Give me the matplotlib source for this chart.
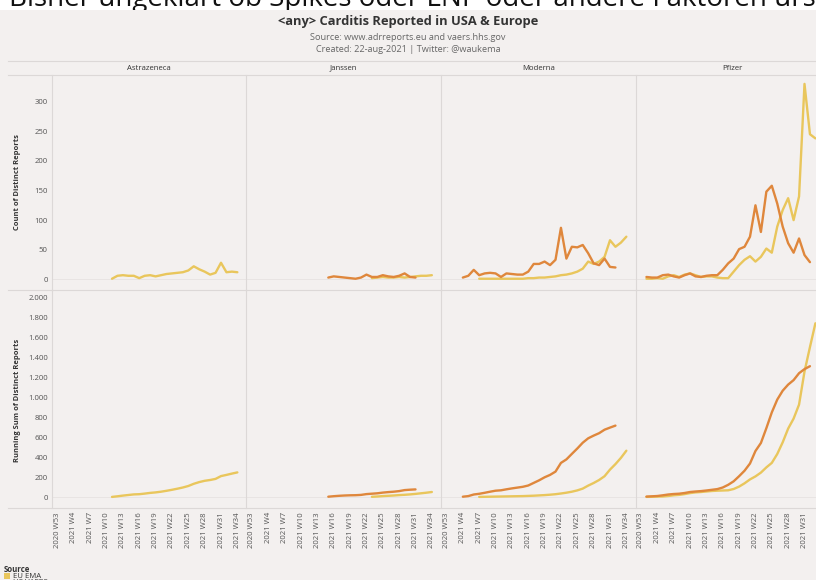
import numpy as np
import matplotlib.pyplot as plt
from matplotlib.ticker import FuncFormatter, FixedLocator
from matplotlib.patches import Rectangle
from matplotlib.lines import Line2D

W, H = 816, 580
BG = "#f3f0ef"
GRID = "#dcd8d7"
EMA_COLOR = "#e9c65c"
VAERS_COLOR = "#df873c"
FONT = ["Open Sans", "DejaVu Sans"]

vaccines = ["Astrazeneca", "Janssen", "Moderna", "Pfizer"]
week_ticks = ["2020 W53", "2021 W4", "2021 W7", "2021 W10", "2021 W13", "2021 W16",
              "2021 W19", "2021 W22", "2021 W25", "2021 W28", "2021 W31", "2021 W34"]

# weekly report counts; *_first = week slot of the first value (slot 0 = 2020 W53)
az_ema_first = 10
az_ema = [1, 6, 7, 6, 6, 2, 6, 7, 5, 7, 9, 10, 11, 12, 15, 22, 17, 13, 8, 11, 28, 12, 13, 12]

jan_ema_first = 22
jan_ema = [2, 3, 4, 3, 3, 4, 3, 4, 5, 6, 6, 7]
jan_vaers_first = 14
jan_vaers = [3, 5, 4, 3, 2, 1, 3, 8, 4, 4, 7, 5, 4, 6, 10, 4, 3]

mod_ema_first = 6
mod_ema = [1, 1, 1, 1, 1, 1, 1, 1, 1, 2, 2, 3, 3, 4, 5, 7, 8, 10, 13, 18, 30, 26, 30, 38,
           66, 55, 62, 72]
mod_vaers_first = 3
mod_vaers = [3, 6, 16, 7, 10, 11, 10, 4, 10, 9, 8, 8, 13, 26, 26, 30, 24, 33, 87, 35, 55,
             54, 58, 44, 27, 24, 35, 21, 20]

pfz_ema_first = 1
pfz_ema = [1, 1, 2, 1, 5, 7, 4, 8, 10, 7, 4, 5, 5, 3, 2, 2, 13, 24, 33, 39, 30, 38, 52, 45,
           89, 117, 137, 100, 140, 330, 245, 238]
pfz_vaers_first = 1
pfz_vaers = [4, 3, 3, 7, 8, 5, 3, 7, 10, 5, 4, 6, 7, 7, 16, 27, 35, 51, 55, 72, 125, 80,
             148, 158, 128, 89, 61, 45, 69, 41, 29]

series = {
    "Astrazeneca": [(az_ema_first, az_ema, EMA_COLOR)],
    "Janssen": [(jan_ema_first, jan_ema, EMA_COLOR), (jan_vaers_first, jan_vaers, VAERS_COLOR)],
    "Moderna": [(mod_ema_first, mod_ema, EMA_COLOR), (mod_vaers_first, mod_vaers, VAERS_COLOR)],
    "Pfizer": [(pfz_ema_first, pfz_ema, EMA_COLOR), (pfz_vaers_first, pfz_vaers, VAERS_COLOR)],
}

fig = plt.figure(figsize=(W / 100, H / 100), dpi=100, facecolor="white")


def fx(x):
    return x / W


def fy(y):
    return 1 - y / H


def px_axes(x0, y0, x1, y1):
    ax = fig.add_axes([fx(x0), fy(y1), fx(x1 - x0), (y1 - y0) / H])
    ax.set_zorder(2)
    return ax


# clipped caption of the screenshot, partly hidden behind the chart
fig.text(fx(9), fy(6), "Bisher ungeklärt ob Spikes oder LNP oder andere Faktoren ursächlich",
         fontsize=20, family=FONT, color="#111111", va="baseline", ha="left", zorder=0.5)
fig.patches.append(Rectangle((0, 0), 1, fy(10), transform=fig.transFigure,
                             facecolor=BG, edgecolor="none", zorder=1))

fig.text(0.5, fy(21), "<any> Carditis Reported in USA & Europe", ha="center", va="center",
         fontsize=9.3, fontweight="bold", family=FONT, color="#333333")
fig.text(0.5, fy(37), "Source: www.adrreports.eu and vaers.hhs.gov", ha="center",
         va="center", fontsize=6.6, family=FONT, color="#666666")
fig.text(0.5, fy(50), "Created: 22-aug-2021 | Twitter: @waukema", ha="center",
         va="center", fontsize=6.6, family=FONT, color="#666666")

panel_w = 194.5
left0 = 52
rows = [(75, 290), (290, 508)]
ylims = [(-18, 345), (-110, 2070)]
yticks = [np.arange(0, 301, 50), np.arange(0, 2001, 200)]
px_per_week = 5.45
xlim = (-5.5 / px_per_week, (panel_w - 5.5) / px_per_week)

thousands = FuncFormatter(lambda v, p: f"{int(v):,}".replace(",", "."))

# header and row separator lines
for y in (61, 75, 290, 508):
    fig.add_artist(Line2D([fx(8), 1], [fy(y), fy(y)], color=GRID, lw=0.8, zorder=2))

for i, name in enumerate(vaccines):
    x0 = left0 + i * panel_w
    fig.text(fx(x0 + panel_w / 2), fy(68), name, ha="center", va="center",
             fontsize=5.6, family=FONT, color="#333333")
    for r, (y0, y1) in enumerate(rows):
        ax = px_axes(x0, y0, x0 + panel_w, y1)
        ax.set_facecolor("none")
        for s in ax.spines.values():
            s.set_visible(False)
        ax.spines["left"].set_visible(True)
        ax.spines["left"].set_color(GRID)
        ax.spines["left"].set_linewidth(0.8)
        ax.axhline(0, color="#e6e2e1", lw=0.6, zorder=0)
        for first, vals, color in series[name]:
            xs = np.arange(first, first + len(vals))
            ys = np.array(vals, dtype=float)
            if r == 1:
                ys = np.cumsum(ys)
            ax.plot(xs, ys, color=color, lw=1.7, solid_capstyle="round",
                    solid_joinstyle="round")
        ax.set_xlim(*xlim)
        ax.set_ylim(*ylims[r])
        ax.yaxis.set_major_locator(FixedLocator(yticks[r]))
        ax.yaxis.set_major_formatter(thousands)
        ax.xaxis.set_major_locator(FixedLocator(range(0, 3 * len(week_ticks), 3)))
        ax.tick_params(length=0, labelsize=5.6, labelcolor="#555555", pad=3)
        if i > 0:
            ax.tick_params(axis="y", labelleft=False)
        if r == 1:
            ax.set_xticklabels(week_ticks, rotation=90, fontfamily=FONT)
        else:
            ax.tick_params(axis="x", labelbottom=False)
        for lbl in ax.get_yticklabels():
            lbl.set_fontfamily(FONT)

fig.text(fx(18), fy(182), "Count of Distinct Reports", rotation=90, ha="center",
         va="center", fontsize=5.4, fontweight="bold", family=FONT, color="#333333")
fig.text(fx(18), fy(400), "Running Sum of Distinct Reports", rotation=90, ha="center",
         va="center", fontsize=5.4, fontweight="bold", family=FONT, color="#333333")

# legend
fig.text(fx(4), fy(569), "Source", ha="left", va="center", fontsize=5.6,
         fontweight="bold", family=FONT, color="#333333")
for k, (label, color) in enumerate([("EU EMA", EMA_COLOR), ("US VAERS", VAERS_COLOR)]):
    yc = 576 + k * 7
    fig.patches.append(Rectangle((fx(4), fy(yc + 3)), 6 / W, 6 / H,
                                 transform=fig.transFigure, facecolor=color,
                                 edgecolor="none", zorder=2))
    fig.text(fx(13), fy(yc), label, ha="left", va="center", fontsize=5.6,
             family=FONT, color="#333333")

fig.savefig("out.png", dpi=100, facecolor="white")
